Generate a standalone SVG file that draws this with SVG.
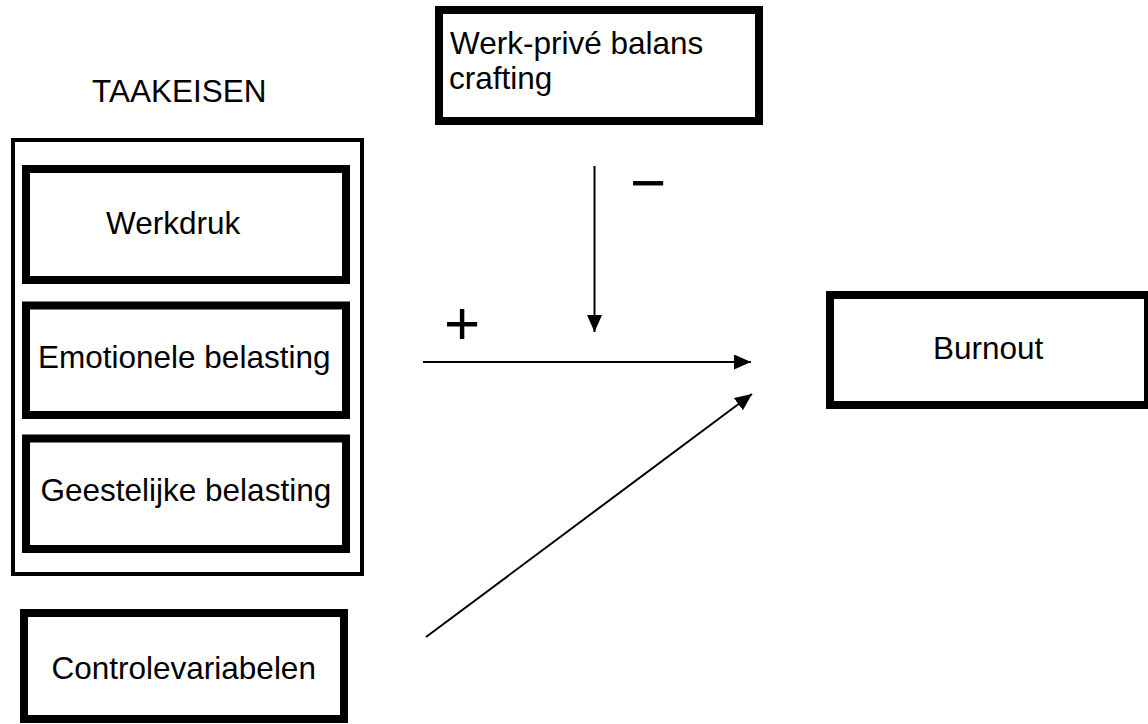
<svg xmlns="http://www.w3.org/2000/svg" width="1148" height="724" viewBox="0 0 1148 724">
<style>
  .lbl { font-family: "Liberation Sans", Arial, sans-serif; font-size: 31.5px; fill: #000; }
  .sign { font-family: "Liberation Sans", Arial, sans-serif; font-size: 62px; fill: #000; }
  .box { fill: #fff; stroke: #000; stroke-width: 8; }
  .group { fill: #fff; stroke: #000; stroke-width: 4; }
  .conn { stroke: #000; stroke-width: 2; fill: none; marker-end: url(#arrow); }
</style>
<defs>
  <marker id="arrow" markerUnits="userSpaceOnUse" markerWidth="18" markerHeight="16" refX="17" refY="7.5" orient="auto">
    <path d="M0,0 L17,7.5 L0,15 z" fill="#000"/>
  </marker>
</defs>
<rect width="1148" height="724" fill="#fff"/>
<g id="taakeisen">
  <text class="lbl" x="92" y="102">TAAKEISEN</text>
  <rect class="group" x="13" y="140" width="349" height="434"/>
</g>
<g id="werkdruk">
  <rect class="box" x="26" y="169" width="320" height="111"/>
  <text class="lbl" x="106" y="234">Werkdruk</text>
</g>
<g id="emotionele">
  <rect class="box" x="26" y="305.5" width="320" height="109.5"/>
  <text class="lbl" x="38" y="368">Emotionele belasting</text>
</g>
<g id="geestelijke">
  <rect class="box" x="26" y="438.5" width="320" height="110.5"/>
  <text class="lbl" x="40.5" y="501">Geestelijke belasting</text>
</g>
<g id="controle">
  <rect class="box" x="24" y="613" width="320" height="106"/>
  <text class="lbl" x="51.5" y="679">Controlevariabelen</text>
</g>
<g id="werkprive">
  <rect class="box" x="439" y="10" width="320" height="111"/>
  <text class="lbl" x="450" y="54">Werk-privé balans</text>
  <text class="lbl" x="449" y="89">crafting</text>
</g>
<g id="burnout">
  <rect class="box" x="830" y="295" width="318" height="110"/>
  <text class="lbl" x="933" y="359">Burnout</text>
</g>
<g id="connectors">
  <line class="conn" x1="594.5" y1="166" x2="594.5" y2="332"/>
  <line class="conn" x1="423" y1="362" x2="751" y2="362"/>
  <line class="conn" x1="426" y1="637" x2="752" y2="394"/>
  <text class="sign" x="444" y="344">+</text>
  <text class="sign" x="630" y="204">−</text>
</g>
</svg>
